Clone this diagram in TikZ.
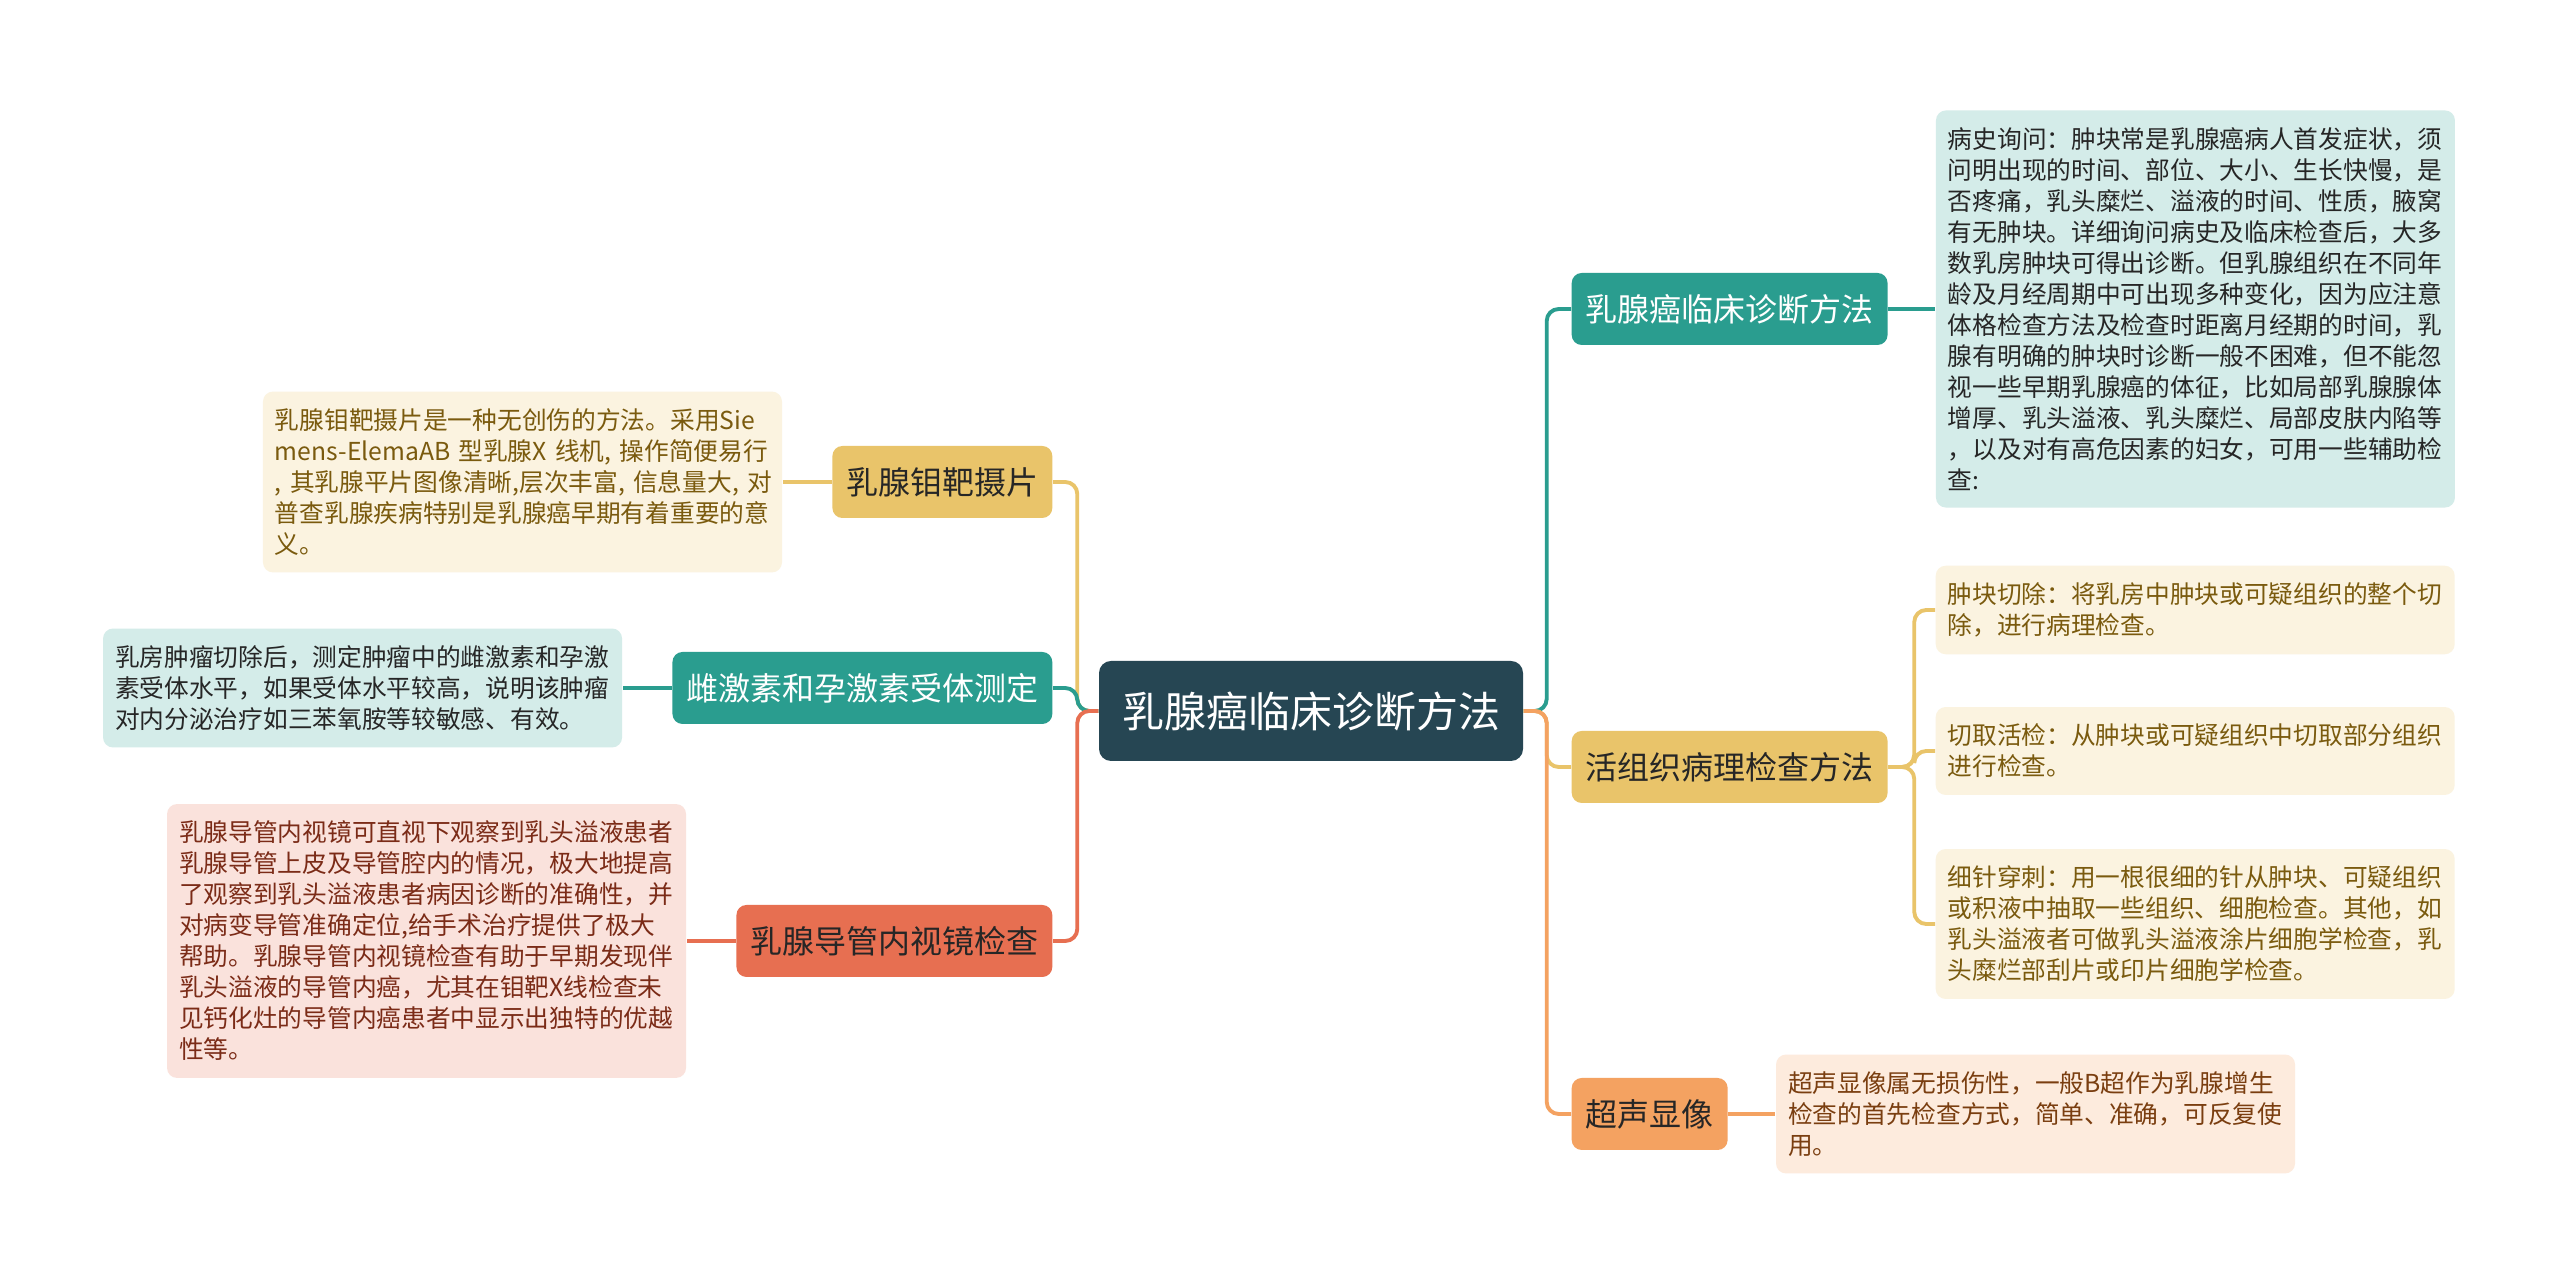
\documentclass[tikz,border=0pt]{standalone}
\usepackage{fontspec}
\setmainfont{Noto Sans CJK SC}
\usetikzlibrary{positioning}
\definecolor{rootc}{HTML}{264653}
\definecolor{tealc}{HTML}{2A9D8F}
\definecolor{goldc}{HTML}{E9C46A}
\definecolor{orangec}{HTML}{F4A261}
\definecolor{redc}{HTML}{E76F51}
\definecolor{teall}{HTML}{D4ECE9}
\definecolor{goldl}{HTML}{FBF3E0}
\definecolor{orangel}{HTML}{FDEBDD}
\definecolor{redl}{HTML}{FAE2DC}
\definecolor{darkt}{HTML}{262626}
\definecolor{goldt}{HTML}{7A5A0E}
\definecolor{redt}{HTML}{7B2B17}
\definecolor{oranget}{HTML}{7A3E10}
\begin{document}
\begin{tikzpicture}[
    box/.style={rounded corners=0.1cm, inner xsep=0.14cm, minimum height=0.72cm, font=\fontsize{9.1pt}{11pt}\selectfont},
    leaf/.style={rounded corners=0.1cm, text width=4.95cm, align=left, inner xsep=0.12cm, inner ysep=0.17cm, font=\fontsize{7.03pt}{8.82pt}\selectfont},
    link/.style={line width=1.1pt, rounded corners=0.12cm}
  ]
    \fill[white] (0,0) rectangle (25.6,-12.8);

    \node[fill=rootc, text=white, rounded corners=0.12cm, minimum width=4.24cm, minimum height=1cm, font=\fontsize{11.95pt}{14pt}\selectfont] (root) at (13.11,-7.11) {乳腺癌临床诊断方法};

    \node[box, fill=goldc, text=darkt, anchor=east] (mo) at (10.53,-4.82) {乳腺钼靶摄片};
    \node[box, fill=tealc, text=white, anchor=east] (ci) at (10.53,-6.88) {雌激素和孕激素受体测定};
    \node[box, fill=redc, text=darkt, anchor=east] (dao) at (10.53,-9.41) {乳腺导管内视镜检查};

    \node[leaf, fill=goldl, text=goldt, left=0.49cm of mo] (moinfo) {\mbox{乳腺钼靶摄片是一种无创伤的方法。采用Sie}\\\mbox{mens-ElemaAB 型乳腺X 线机, 操作简便易行}\\\mbox{, 其乳腺平片图像清晰,层次丰富, 信息量大, 对}\\\mbox{普查乳腺疾病特别是乳腺癌早期有着重要的意}\\义。};
    \node[leaf, fill=teall, text=darkt, left=0.49cm of ci] (ciinfo) {乳房肿瘤切除后，测定肿瘤中的雌激素和孕激\\素受体水平，如果受体水平较高，说明该肿瘤\\对内分泌治疗如三苯氧胺等较敏感、有效。};
    \node[leaf, fill=redl, text=redt, left=0.49cm of dao] (daoinfo) {乳腺导管内视镜可直视下观察到乳头溢液患者\\乳腺导管上皮及导管腔内的情况，极大地提高\\了观察到乳头溢液患者病因诊断的准确性，并\\对病变导管准确定位,给手术治疗提供了极大\\帮助。乳腺导管内视镜检查有助于早期发现伴\\乳头溢液的导管内癌，尤其在钼靶X线检查未\\见钙化灶的导管内癌患者中显示出独特的优越\\性等。};

    \node[box, fill=tealc, text=white, anchor=west] (lin) at (15.71,-3.09) {乳腺癌临床诊断方法};
    \node[box, fill=goldc, text=darkt, anchor=west] (huo) at (15.71,-7.67) {活组织病理检查方法};
    \node[box, fill=orangec, text=darkt, anchor=west] (chao) at (15.71,-11.14) {超声显像};

    \node[leaf, fill=teall, text=darkt, right=0.47cm of lin] (lininfo) {病史询问：肿块常是乳腺癌病人首发症状，须\\问明出现的时间、部位、大小、生长快慢，是\\否疼痛，乳头糜烂、溢液的时间、性质，腋窝\\有无肿块。详细询问病史及临床检查后，大多\\数乳房肿块可得出诊断。但乳腺组织在不同年\\龄及月经周期中可出现多种变化，因为应注意\\体格检查方法及检查时距离月经期的时间，乳\\腺有明确的肿块时诊断一般不困难，但不能忽\\视一些早期乳腺癌的体征，比如局部乳腺腺体\\增厚、乳头溢液、乳头糜烂、局部皮肤内陷等\\，以及对有高危因素的妇女，可用一些辅助检\\查:};
    \node[leaf, fill=goldl, text=goldt, anchor=west] (qiechu) at (19.35,-6.10) {肿块切除：将乳房中肿块或可疑组织的整个切\\除，进行病理检查。};
    \node[leaf, fill=goldl, text=goldt, anchor=west] (huojian) at (19.35,-7.51) {切取活检：从肿块或可疑组织中切取部分组织\\进行检查。};
    \node[leaf, fill=goldl, text=goldt, anchor=west] (chuanci) at (19.35,-9.24) {细针穿刺：用一根很细的针从肿块、可疑组织\\或积液中抽取一些组织、细胞检查。其他，如\\乳头溢液者可做乳头溢液涂片细胞学检查，乳\\头糜烂部刮片或印片细胞学检查。};
    \node[leaf, fill=orangel, text=oranget, right=0.47cm of chao] (chaoinfo) {超声显像属无损伤性，一般B超作为乳腺增生\\检查的首先检查方式，简单、准确，可反复使\\用。};

    \draw[link, goldc] (root.west) -- ++(-0.21,0) |- (mo.east);
    \draw[link, tealc] (root.west) -- ++(-0.21,0) |- (ci.east);
    \draw[link, redc] (root.west) -- ++(-0.21,0) |- (dao.east);
    \draw[link, tealc] (root.east) -- ++(0.23,0) |- (lin.west);
    \draw[link, goldc] (root.east) -- ++(0.23,0) |- (huo.west);
    \draw[link, orangec] (root.east) -- ++(0.23,0) |- (chao.west);

    \draw[link, goldc] (mo.west) -- (moinfo.east);
    \draw[link, tealc] (ci.west) -- (ciinfo.east);
    \draw[link, redc] (dao.west) -- (daoinfo.east);
    \draw[link, tealc] (lin.east) -- (lininfo.west);
    \foreach \n in {qiechu,huojian,chuanci}
    \draw[link, goldc] (huo.east) -- ++(0.26,0) |- (\n.west);
    \draw[link, orangec] (chao.east) -- (chaoinfo.west);
\end{tikzpicture}
\end{document}
